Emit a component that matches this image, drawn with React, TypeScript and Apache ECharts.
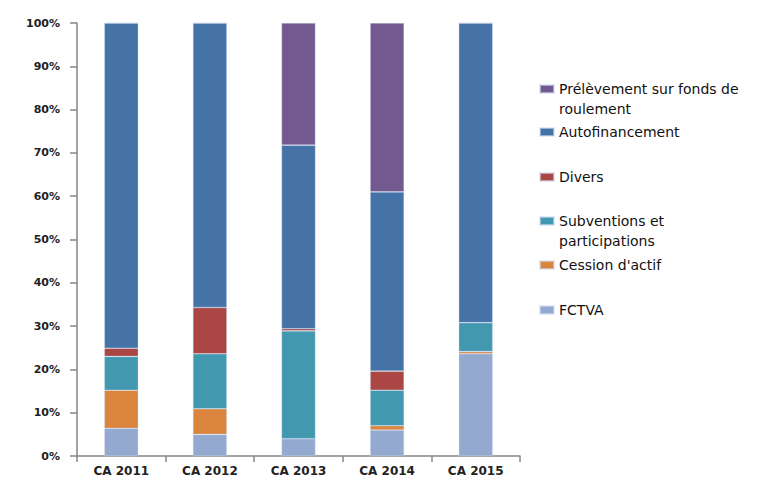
import React, { useEffect, useRef } from "react";
import * as echarts from "echarts";

const categories = ["CA 2011", "CA 2012", "CA 2013", "CA 2014", "CA 2015"];
const fctva = [6.4, 5.0, 4.0, 6.0, 23.6];
const cession = [8.8, 5.9, 0, 1.0, 0.5];
const subventions = [7.8, 12.7, 24.9, 8.2, 6.7];
const divers = [1.9, 10.7, 0.5, 4.4, 0];
const autofinancement = [75.1, 65.7, 42.4, 41.4, 69.2];
const prelevement = [0, 0, 28.2, 39.0, 0];

const seriesNames = [
  "FCTVA",
  "Cession d'actif",
  "Subventions et participations",
  "Divers",
  "Autofinancement",
  "Prélèvement sur fonds de roulement",
];
const seriesValues = [fctva, cession, subventions, divers, autofinancement, prelevement];
const colors = ["#93A9CF", "#DB843D", "#4198AF", "#AA4643", "#4572A7", "#725990"];

const legendLabels: Record<string, string> = {
  "Prélèvement sur fonds de roulement": " \nPrélèvement sur fonds de\nroulement",
  "Autofinancement": "Autofinancement",
  "Divers": "Divers",
  "Subventions et participations": " \nSubventions et\nparticipations",
  "Cession d'actif": "Cession d'actif",
  "FCTVA": "FCTVA",
};

export default function App() {
  const ref = useRef<HTMLDivElement>(null);
  useEffect(() => {
    document.body.style.margin = "0";
    if (!ref.current) return;
    const chart = echarts.init(ref.current, undefined, { renderer: "svg" });
    const legendOrder = [
      { name: "Prélèvement sur fonds de roulement", cy: 89, multi: true },
      { name: "Autofinancement", cy: 132, multi: false },
      { name: "Divers", cy: 177, multi: false },
      { name: "Subventions et participations", cy: 221, multi: true },
      { name: "Cession d'actif", cy: 265, multi: false },
      { name: "FCTVA", cy: 310, multi: false },
    ];
    const legends = legendOrder.map((l) => ({
      data: [l.name],
      orient: "vertical",
      left: 539,
      top: l.multi ? l.cy - 30 : l.cy - 10,
      padding: 0,
      itemWidth: 14,
      itemHeight: 8,
      icon: "rect",
      selectedMode: false,
      formatter: (n: string) => legendLabels[n] ?? n,
      textStyle: {
        fontFamily: "DejaVu Sans",
        fontSize: 14,
        color: "#111",
        lineHeight: 20,
      },
    }));
    chart.setOption({
      animation: false,
      color: colors,
      grid: { left: 77, right: 258, top: 23, bottom: 28 },
      legend: legends,
      xAxis: {
        type: "category",
        data: categories,
        axisLine: { lineStyle: { color: "#868686", width: 1.5 } },
        axisTick: { show: true, length: 6, lineStyle: { color: "#868686", width: 1.5 } },
        axisLabel: {
          fontFamily: "DejaVu Sans",
          fontSize: 12,
          fontWeight: "bold",
          color: "#222",
          margin: 9,
        },
      },
      yAxis: {
        type: "value",
        min: 0,
        max: 100,
        interval: 10,
        splitLine: { show: false },
        axisLine: { show: true, lineStyle: { color: "#868686", width: 1.5 } },
        axisTick: { show: true, length: 7, lineStyle: { color: "#868686", width: 1.5 } },
        axisLabel: {
          formatter: "{value}%",
          fontFamily: "DejaVu Sans",
          fontSize: 11,
          fontWeight: "bold",
          color: "#222",
          margin: 17,
        },
      },
      series: seriesNames.map((name, i) => ({
        name,
        type: "bar",
        stack: "total",
        data: seriesValues[i],
        barWidth: 34,
        itemStyle: { color: colors[i], borderColor: "rgba(210,222,240,0.6)", borderWidth: 0.6 },
      })),
    });
    return () => chart.dispose();
  }, []);
  return <div ref={ref} style={{ width: 778, height: 484 }} />;
}
